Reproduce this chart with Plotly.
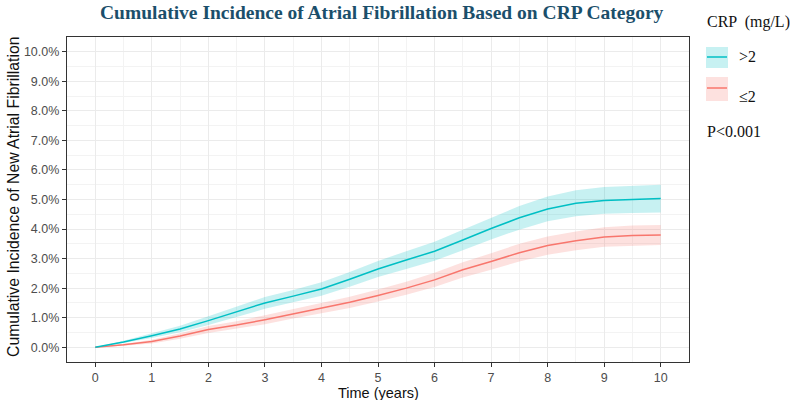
import plotly.graph_objects as go

# Time grid (years)
time = [0, 0.5, 1, 1.5, 2, 2.5, 3, 3.5, 4, 4.5, 5, 5.5, 6, 6.5, 7, 7.5, 8, 8.5, 9, 9.5, 10]

# CRP > 2 mg/L (percent)
hi_est = [0, 0.18, 0.39, 0.62, 0.90, 1.20, 1.50, 1.73, 1.97, 2.30, 2.65, 2.95, 3.25, 3.63, 4.02, 4.38, 4.68, 4.87, 4.97, 5.00, 5.03]
hi_upper = [0, 0.22, 0.47, 0.73, 1.05, 1.37, 1.70, 1.94, 2.20, 2.55, 2.92, 3.25, 3.57, 3.98, 4.39, 4.78, 5.10, 5.31, 5.42, 5.46, 5.50]
hi_lower = [0, 0.14, 0.31, 0.51, 0.75, 1.03, 1.30, 1.52, 1.74, 2.05, 2.38, 2.65, 2.93, 3.28, 3.65, 3.98, 4.26, 4.43, 4.52, 4.54, 4.56]

# CRP <= 2 mg/L (percent)
lo_est = [0, 0.08, 0.19, 0.38, 0.60, 0.75, 0.93, 1.13, 1.33, 1.52, 1.75, 2.00, 2.28, 2.62, 2.90, 3.20, 3.44, 3.60, 3.73, 3.78, 3.80]
lo_upper = [0, 0.11, 0.25, 0.47, 0.72, 0.88, 1.08, 1.29, 1.51, 1.71, 1.95, 2.22, 2.52, 2.88, 3.18, 3.50, 3.75, 3.92, 4.06, 4.12, 4.14]
lo_lower = [0, 0.05, 0.13, 0.29, 0.48, 0.62, 0.78, 0.97, 1.15, 1.33, 1.55, 1.78, 2.04, 2.36, 2.62, 2.90, 3.13, 3.28, 3.40, 3.44, 3.46]

x_ticks = list(range(0, 11))
y_ticks = list(range(0, 11))
y_tick_labels = [f"{v:.1f}%" for v in y_ticks]

CYAN = "#00BFC4"
RED = "#F8766D"
CYAN_FILL = "rgba(0,191,196,0.22)"
RED_FILL = "rgba(248,118,109,0.22)"

fig = go.Figure()

def add_group(est, lower, upper, line_color, fill_color):
    fig.add_trace(go.Scatter(x=time, y=upper, mode="lines", line=dict(width=0),
                             showlegend=False, hoverinfo="skip"))
    fig.add_trace(go.Scatter(x=time, y=lower, mode="lines", line=dict(width=0),
                             fill="tonexty", fillcolor=fill_color,
                             showlegend=False, hoverinfo="skip"))
    fig.add_trace(go.Scatter(x=time, y=est, mode="lines",
                             line=dict(color=line_color, width=1.5),
                             showlegend=False))

add_group(lo_est, lo_lower, lo_upper, RED, RED_FILL)
add_group(hi_est, hi_lower, hi_upper, CYAN, CYAN_FILL)

L, R, T, B = 67, 105, 37, 38
W, H = 794, 400
pw, ph = W - L - R, H - T - B

def px(xp):
    return (xp - L) / pw

def py(yp):
    return (H - B - yp) / ph

axis_common = dict(
    showline=True, mirror=True, linecolor="#333333", linewidth=1.3,
    ticks="outside", ticklen=4, tickcolor="#333333", tickwidth=1,
    showgrid=True, gridcolor="#EBEBEB", gridwidth=1,
    zeroline=False,
    tickfont=dict(family="Liberation Sans, Arial", size=12.5, color="#4D4D4D"),
)

fig.update_xaxes(range=[-0.5, 10.5], tickvals=x_ticks,
                 minor=dict(dtick=0.5, tick0=0, showgrid=True, gridcolor="#F3F3F3", gridwidth=0.8, ticks=""),
                 **axis_common)
fig.update_yaxes(range=[-0.5, 10.5], tickvals=y_ticks, ticktext=y_tick_labels,
                 minor=dict(dtick=0.5, tick0=0, showgrid=True, gridcolor="#F3F3F3", gridwidth=0.8, ticks=""),
                 **axis_common)

annotations = [
    dict(text="<b>Cumulative Incidence of Atrial Fibrillation Based on CRP Category</b>",
         x=px(382), y=py(12), xref="paper", yref="paper", showarrow=False,
         xanchor="center", yanchor="middle",
         font=dict(family="Liberation Serif, Times New Roman", size=19.5, color="#1B4F6B")),
    dict(text="Time (years)", x=px(378), y=py(393), xref="paper", yref="paper",
         showarrow=False, xanchor="center", yanchor="middle",
         font=dict(family="Liberation Sans, Arial", size=14.5, color="#111111")),
    dict(text="Cumulative Incidence of New Atrial Fibrillation", x=px(13), y=py(197),
         xref="paper", yref="paper", showarrow=False, textangle=-90,
         xanchor="center", yanchor="middle",
         font=dict(family="Liberation Sans, Arial", size=15.8, color="#111111")),
    dict(text="CRP  (mg/L)", x=px(705), y=py(22), xref="paper", yref="paper",
         showarrow=False, xanchor="left", yanchor="middle",
         font=dict(family="Liberation Serif, Times New Roman", size=16, color="#111111")),
    dict(text="&gt;2", x=px(737), y=py(56), xref="paper", yref="paper",
         showarrow=False, xanchor="left", yanchor="middle",
         font=dict(family="Liberation Serif, Times New Roman", size=16, color="#111111")),
    dict(text="≤2", x=px(737), y=py(96), xref="paper", yref="paper",
         showarrow=False, xanchor="left", yanchor="middle",
         font=dict(family="Liberation Serif, Times New Roman", size=16, color="#111111")),
    dict(text="P&lt;0.001", x=px(705), y=py(131), xref="paper", yref="paper",
         showarrow=False, xanchor="left", yanchor="middle",
         font=dict(family="Liberation Serif, Times New Roman", size=16, color="#111111")),
]

shapes = [
    dict(type="rect", xref="paper", yref="paper", x0=px(706), x1=px(728), y0=py(68), y1=py(47),
         fillcolor=CYAN_FILL, line=dict(width=0)),
    dict(type="line", xref="paper", yref="paper", x0=px(707), x1=px(727), y0=py(57), y1=py(57),
         line=dict(color=CYAN, width=1.5)),
    dict(type="rect", xref="paper", yref="paper", x0=px(706), x1=px(728), y0=py(101), y1=py(77),
         fillcolor=RED_FILL, line=dict(width=0)),
    dict(type="line", xref="paper", yref="paper", x0=px(707), x1=px(727), y0=py(88), y1=py(88),
         line=dict(color=RED, width=1.5)),
]

fig.update_layout(
    width=W, height=H,
    margin=dict(l=L, r=R, t=T, b=B),
    paper_bgcolor="white", plot_bgcolor="white",
    annotations=annotations, shapes=shapes,
    showlegend=False,
)

fig.write_html("out.html")
